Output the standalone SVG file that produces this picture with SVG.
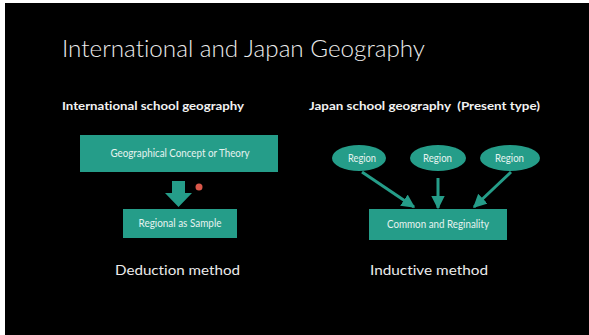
<svg xmlns="http://www.w3.org/2000/svg" width="589" height="335" viewBox="0 0 589 335">
<defs>
<style>
text{font-variant-ligatures:none;font-feature-settings:"liga" 0,"dlig" 0}
.t{font-family:Lato,"Open Sans","Liberation Sans",sans-serif;fill:#ececec}
.h{font-family:Lato,"Open Sans","Liberation Sans",sans-serif;font-weight:bold;fill:#f2f2f2;font-size:12px}
.n{fill:#259d89}
.nt{font-family:Lato,"Open Sans","Liberation Sans",sans-serif;fill:#e6f3f0;font-size:10.5px;text-anchor:middle}
.c{stroke:#259d89;stroke-width:3;fill:none}
</style>
<marker id="ah" viewBox="0 0 10 10" refX="9" refY="5" markerWidth="4.5" markerHeight="4.5" orient="auto" markerUnits="strokeWidth">
<path d="M0,0 L10,5 L0,10 z" fill="#259d89"/>
</marker>
</defs>
<rect x="0" y="0" width="589" height="335" fill="#ffffff"/>
<rect x="5" y="3" width="584" height="332" fill="#000000"/>
<text class="t" x="62" y="57" font-size="24" font-weight="300" textLength="363" lengthAdjust="spacingAndGlyphs">International and Japan Geography</text>
<text class="h" x="62" y="110" textLength="182" lengthAdjust="spacingAndGlyphs">International school geography</text>
<text class="h" x="309" y="110" textLength="231" lengthAdjust="spacingAndGlyphs" xml:space="preserve">Japan school geography  (Present type)</text>

<g id="concept">
<rect class="n" x="80" y="135" width="198" height="37"/>
<text class="nt" x="180" y="157" textLength="139" lengthAdjust="spacingAndGlyphs">Geographical Concept or Theory</text>
</g>
<g id="sample">
<rect class="n" x="123" y="209" width="114" height="29"/>
<text class="nt" x="180" y="227" textLength="83" lengthAdjust="spacingAndGlyphs">Regional as Sample</text>
</g>
<g id="region1">
<ellipse class="n" cx="359" cy="158" rx="27" ry="13"/>
<text class="nt" x="362" y="162" textLength="28" lengthAdjust="spacingAndGlyphs">Region</text>
</g>
<g id="region2">
<ellipse class="n" cx="438" cy="158" rx="28" ry="13"/>
<text class="nt" x="437.5" y="162" textLength="29" lengthAdjust="spacingAndGlyphs">Region</text>
</g>
<g id="region3">
<ellipse class="n" cx="510" cy="158" rx="30" ry="13"/>
<text class="nt" x="509.5" y="162" textLength="29" lengthAdjust="spacingAndGlyphs">Region</text>
</g>
<g id="common">
<rect class="n" x="369" y="209" width="138" height="31"/>
<text class="nt" x="438" y="228" textLength="102" lengthAdjust="spacingAndGlyphs">Common and Reginality</text>
</g>

<g id="connectors">
<path class="n" d="M172,181 L185,181 L185,193 L192,193 L178.5,207 L165,193 L172,193 Z"/>
<circle cx="199" cy="187" r="3.5" fill="#d9574a"/>
<line class="c" x1="362" y1="172" x2="414" y2="207" marker-end="url(#ah)"/>
<line class="c" x1="438" y1="178" x2="438" y2="208" marker-end="url(#ah)"/>
<line class="c" x1="511" y1="172" x2="474" y2="207" marker-end="url(#ah)"/>
</g>

<text class="t" x="177.5" y="275" font-size="14" text-anchor="middle" textLength="125" lengthAdjust="spacingAndGlyphs">Deduction method</text>
<text class="t" x="429" y="275" font-size="14" text-anchor="middle" textLength="118" lengthAdjust="spacingAndGlyphs">Inductive method</text>
</svg>
